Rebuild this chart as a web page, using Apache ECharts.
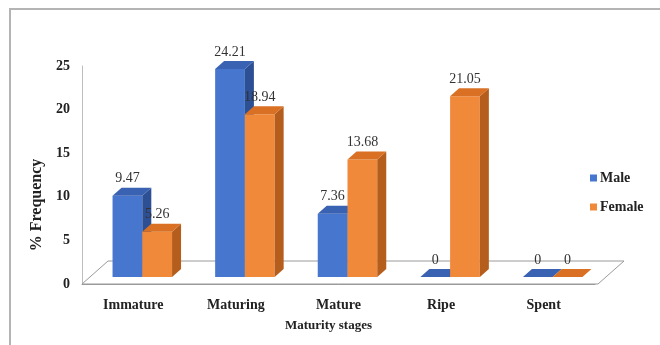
<!DOCTYPE html>
<html>
<head>
<meta charset="utf-8">
<script src="https://cdn.jsdelivr.net/npm/echarts@6/dist/echarts.min.js"></script>
<style>html,body{margin:0;padding:0;background:#fff}#c{width:660px;height:345px}</style>
</head>
<body>
<div id="c"></div>
<script>
var categories = ['Immature', 'Maturing', 'Mature', 'Ripe', 'Spent'];
var maleValues = [9.47, 24.21, 7.36, 0, 0];
var femaleValues = [5.26, 18.94, 13.68, 21.05, 0];
var yMin = 0, yMax = 25, yInterval = 5;

var SERIF = '"Liberation Serif", "DejaVu Serif", serif';
var palette = {
  Male:   { front: '#4776cf', top: '#3a62b2', side: '#2d4f93' },
  Female: { front: '#f1893b', top: '#d97023', side: '#b55d1c' }
};
var DX = 9, DY = 8;        // bar depth
var SHIFT_X = 9, SHIFT_Y = 7; // bars sit back from front plane
var FLOOR_DX = 26, FLOOR_DY = 23;
var BAR_FRAC = 0.29;

function barRenderer(seriesIdx, name) {
  var col = palette[name];
  return function (params, api) {
    var c = api.value(0), v = api.value(1);
    var base = api.coord([c, 0]);
    var topP = api.coord([c, v]);
    var bw = api.size([1, 0])[0] * BAR_FRAC;
    var x0 = base[0] + SHIFT_X - bw + seriesIdx * bw;
    var x1 = x0 + bw;
    var yb = base[1] - SHIFT_Y;
    var yt = yb - (base[1] - topP[1]) * 0.985;
    var children = [];
    children.push({ type: 'polygon', shape: { points: [[x0, yb], [x1, yb], [x1, yt], [x0, yt]] }, style: { fill: col.front } });
    children.push({ type: 'polygon', shape: { points: [[x1, yb], [x1 + DX, yb - DY], [x1 + DX, yt - DY], [x1, yt]] }, style: { fill: col.side } });
    children.push({ type: 'polygon', shape: { points: [[x0, yt], [x1, yt], [x1 + DX, yt - DY], [x0 + DX, yt - DY]] }, style: { fill: col.top } });
    children.push({ type: 'text', z2: 100, style: { text: String(v), x: (x0 + x1) / 2, y: yt - 17, align: 'center', verticalAlign: 'middle', fontFamily: SERIF, fontSize: 14, fill: '#333' } });
    return { type: 'group', children: children };
  };
}

function floorRenderer(params, api) {
  var first = api.coord([0, 0]);
  var last = api.coord([categories.length - 1, 0]);
  var half = api.size([1, 0])[0] / 2;
  var xl = first[0] - half, xr = last[0] + half + 3, y = first[1];
  return {
    type: 'polygon',
    shape: { points: [[xl, y], [xr, y], [xr + FLOOR_DX, y - FLOOR_DY], [xl + FLOOR_DX, y - FLOOR_DY]] },
    style: { fill: 'none', stroke: '#9a9a9a', lineWidth: 1 }
  };
}

var chart = echarts.init(document.getElementById('c'), null, { renderer: 'canvas' });
chart.setOption({
  animation: false,
  backgroundColor: '#fff',
  graphic: [{
    type: 'rect', silent: true, z: -10,
    shape: { x: 10, y: 9, width: 700, height: 400 },
    style: { fill: 'none', stroke: '#b4b4b4', lineWidth: 2 }
  }],
  grid: { left: 82, right: 65, top: 66, bottom: 61 },
  legend: {
    data: ['Male', 'Female'],
    orient: 'vertical', left: 585, top: 166,
    itemWidth: 7, itemHeight: 7, itemGap: 15, icon: 'rect',
    textStyle: { fontFamily: SERIF, fontWeight: 'bold', fontSize: 14, color: '#222', padding: [0, 0, 0, -2] }
  },
  xAxis: {
    type: 'category', data: categories,
    name: 'Maturity stages', nameLocation: 'middle', nameGap: 35,
    nameTextStyle: { fontFamily: SERIF, fontWeight: 'bold', fontSize: 13, color: '#222', padding: [0, 20, 0, 0] },
    axisLine: { lineStyle: { color: '#9a9a9a' } },
    axisTick: { length: 5, lineStyle: { color: '#9a9a9a' } },
    axisLabel: { margin: 14, fontFamily: SERIF, fontWeight: 'bold', fontSize: 14, color: '#222' }
  },
  yAxis: {
    type: 'value', min: yMin, max: yMax, interval: yInterval,
    name: '% Frequency', nameLocation: 'middle', nameGap: 36,
    nameTextStyle: { fontFamily: SERIF, fontWeight: 'bold', fontSize: 16, color: '#222', padding: [0, 60, 0, 0] },
    axisLine: { show: true, lineStyle: { color: '#bdbdbd' } },
    axisTick: { show: false },
    splitLine: { show: false },
    axisLabel: { margin: 12, fontFamily: SERIF, fontWeight: 'bold', fontSize: 14, color: '#222' }
  },
  series: [
    { type: 'custom', name: 'floor', silent: true, z: 1, clip: false, renderItem: floorRenderer, data: [[0, 0]] },
    { type: 'custom', name: 'Male', z: 2, clip: false, itemStyle: { color: palette.Male.front },
      renderItem: barRenderer(0, 'Male'), encode: { x: 0, y: 1 },
      data: maleValues.map(function (v, i) { return [i, v]; }) },
    { type: 'custom', name: 'Female', z: 2, clip: false, itemStyle: { color: palette.Female.front },
      renderItem: barRenderer(1, 'Female'), encode: { x: 0, y: 1 },
      data: femaleValues.map(function (v, i) { return [i, v]; }) }
  ]
});
</script>
</body>
</html>
